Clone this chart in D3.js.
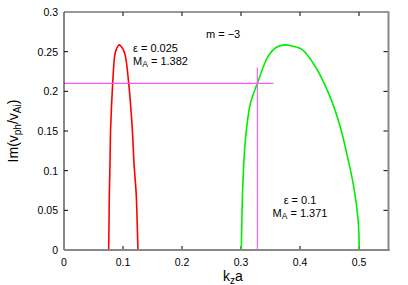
<!DOCTYPE html>
<html>
<head>
<meta charset="utf-8">
<script src="https://d3js.org/d3.v7.min.js"></script>
<style>
body{margin:0;background:#fff;}
svg{font-family:"Liberation Sans",Arial,Helvetica,sans-serif;}
</style>
</head>
<body>
<div id="chart"></div>
<script>
// curve: [k_z a, Im(v_ph/v_Ai)]
var redCurve = [[0.0757,0],[0.0762,0.03],[0.0768,0.0675],[0.078,0.11],[0.079,0.152],[0.0825,0.21],
  [0.0859,0.2447],[0.0887,0.2532],[0.0937,0.2586],[0.1,0.2532],[0.104,0.2447],[0.1097,0.21],
  [0.1158,0.152],[0.1186,0.11],[0.1226,0.0675],[0.1242,0.03],[0.1254,0]]
var greenCurve = [[0.3005,0],[0.3015,0.04],[0.3035,0.09],[0.3065,0.13],[0.3105,0.16],[0.316,0.185],
  [0.3277,0.21],[0.3463,0.2447],[0.36,0.2555],[0.3746,0.2586],[0.39,0.2565],[0.4028,0.2532],
  [0.4254,0.232],[0.448,0.1983],[0.467,0.1585],[0.479,0.1224],[0.491,0.0802],[0.4985,0.038],[0.5005,0]]
var hLine = [[0,0.21],[0.355,0.21]]
var vLine = [[0.3277,0],[0.3277,0.23]]
var xTicks = [0,0.1,0.2,0.3,0.4,0.5]
var yTicks = [0,0.05,0.1,0.15,0.2,0.25,0.3]

var W = 408, H = 285
var pLeft = 64, pRight = 388.5, pTop = 12, pBottom = 250

var svg = d3.select("#chart").append("svg").attr("width",W).attr("height",H)

var x = d3.scaleLinear().domain([0,0.55]).range([pLeft,pRight])
var y = d3.scaleLinear().domain([0,0.3]).range([pBottom,pTop])

// ticks, drawn inside the frame
svg.selectAll(".xt").data(xTicks.slice(1)).enter().append("line")
  .attr("x1",d=>x(d)).attr("x2",d=>x(d)).attr("y1",pBottom).attr("y2",pBottom-4)
  .attr("stroke","#000").attr("stroke-width",1)
svg.selectAll(".xt2").data(xTicks.slice(1)).enter().append("line")
  .attr("x1",d=>x(d)).attr("x2",d=>x(d)).attr("y1",pTop).attr("y2",pTop+4)
  .attr("stroke","#000").attr("stroke-width",1)
svg.selectAll(".yt").data(yTicks.slice(1,-1)).enter().append("line")
  .attr("x1",pLeft).attr("x2",pLeft+4).attr("y1",d=>y(d)).attr("y2",d=>y(d))
  .attr("stroke","#000").attr("stroke-width",1)
svg.selectAll(".yt2").data(yTicks.slice(1,-1)).enter().append("line")
  .attr("x1",pRight).attr("x2",pRight-5).attr("y1",d=>y(d)).attr("y2",d=>y(d))
  .attr("stroke","#000").attr("stroke-width",1)

// tick labels
svg.selectAll(".xl").data(xTicks).enter().append("text")
  .attr("x",d=>x(d)).attr("y",266).attr("text-anchor","middle")
  .attr("font-size","10.5px").attr("fill","#000").text(d=>d)
svg.selectAll(".yl").data(yTicks).enter().append("text")
  .attr("x",58).attr("y",d=>y(d)+4).attr("text-anchor","end")
  .attr("font-size","10.5px").attr("fill","#000").text(d=>d)

// curves
var line = d3.line().x(d=>x(d[0])).y(d=>y(d[1])).curve(d3.curveCatmullRom)
svg.append("path").attr("d",line(redCurve)).attr("fill","none").attr("stroke","#ff0000").attr("stroke-width",1.6)
svg.append("path").attr("d",line(greenCurve)).attr("fill","none").attr("stroke","#00ee00").attr("stroke-width",1.6)
var straight = d3.line().x(d=>x(d[0])).y(d=>y(d[1]))
svg.append("path").attr("d",straight(hLine)).attr("fill","none").attr("stroke","#ff55ff").attr("stroke-width",1.3)
svg.append("path").attr("d",straight(vLine)).attr("fill","none").attr("stroke","#ee66ee").attr("stroke-width",1.2)

// frame: top/left dark, bottom/right grey
svg.append("line").attr("x1",pLeft).attr("x2",pRight).attr("y1",pTop).attr("y2",pTop).attr("stroke","#333").attr("stroke-width",1)
svg.append("line").attr("x1",pLeft).attr("x2",pLeft).attr("y1",pTop).attr("y2",pBottom).attr("stroke","#111").attr("stroke-width",1)
svg.append("line").attr("x1",pLeft).attr("x2",pRight+1).attr("y1",pBottom).attr("y2",pBottom).attr("stroke","#888").attr("stroke-width",2)
svg.append("line").attr("x1",pRight).attr("x2",pRight).attr("y1",pTop-0.5).attr("y2",pBottom+1).attr("stroke","#888").attr("stroke-width",2)

// annotations
function subLabel(xp, yp, anchor, parts){
  var t = svg.append("text").attr("x",xp).attr("y",yp).attr("text-anchor",anchor)
    .attr("font-size","11px").attr("fill","#000")
  parts.forEach(function(p){
    var s = t.append("tspan").text(p[0])
    if(p[1]) s.attr("baseline-shift","-25%").attr("font-size","8.5px")
  })
  return t
}
svg.append("text").attr("x",206).attr("y",38).attr("font-size","11px").attr("fill","#000").text("m = \u22123")
subLabel(133,52,"start",[["\u03b5 = 0.025"]])
subLabel(133,65,"start",[["M"],["A",true],[" = 1.382"]])
subLabel(300,204,"middle",[["\u03b5 = 0.1"]])
subLabel(300,217,"middle",[["M"],["A",true],[" = 1.371"]])

// axis titles
var xt = svg.append("text").attr("x",233).attr("y",281).attr("text-anchor","middle")
  .attr("font-size","14px").attr("fill","#000")
xt.append("tspan").text("k")
xt.append("tspan").text("z").attr("baseline-shift","-25%").attr("font-size","10px")
xt.append("tspan").text("a")

var yt = svg.append("text").attr("transform","translate(18,131) rotate(-90)").attr("text-anchor","middle")
  .attr("font-size","14px").attr("fill","#000")
yt.append("tspan").text("Im(v")
yt.append("tspan").text("ph").attr("baseline-shift","-25%").attr("font-size","10px")
yt.append("tspan").text("/v")
yt.append("tspan").text("Ai").attr("baseline-shift","-25%").attr("font-size","10px")
yt.append("tspan").text(")")
</script>
</body>
</html>
